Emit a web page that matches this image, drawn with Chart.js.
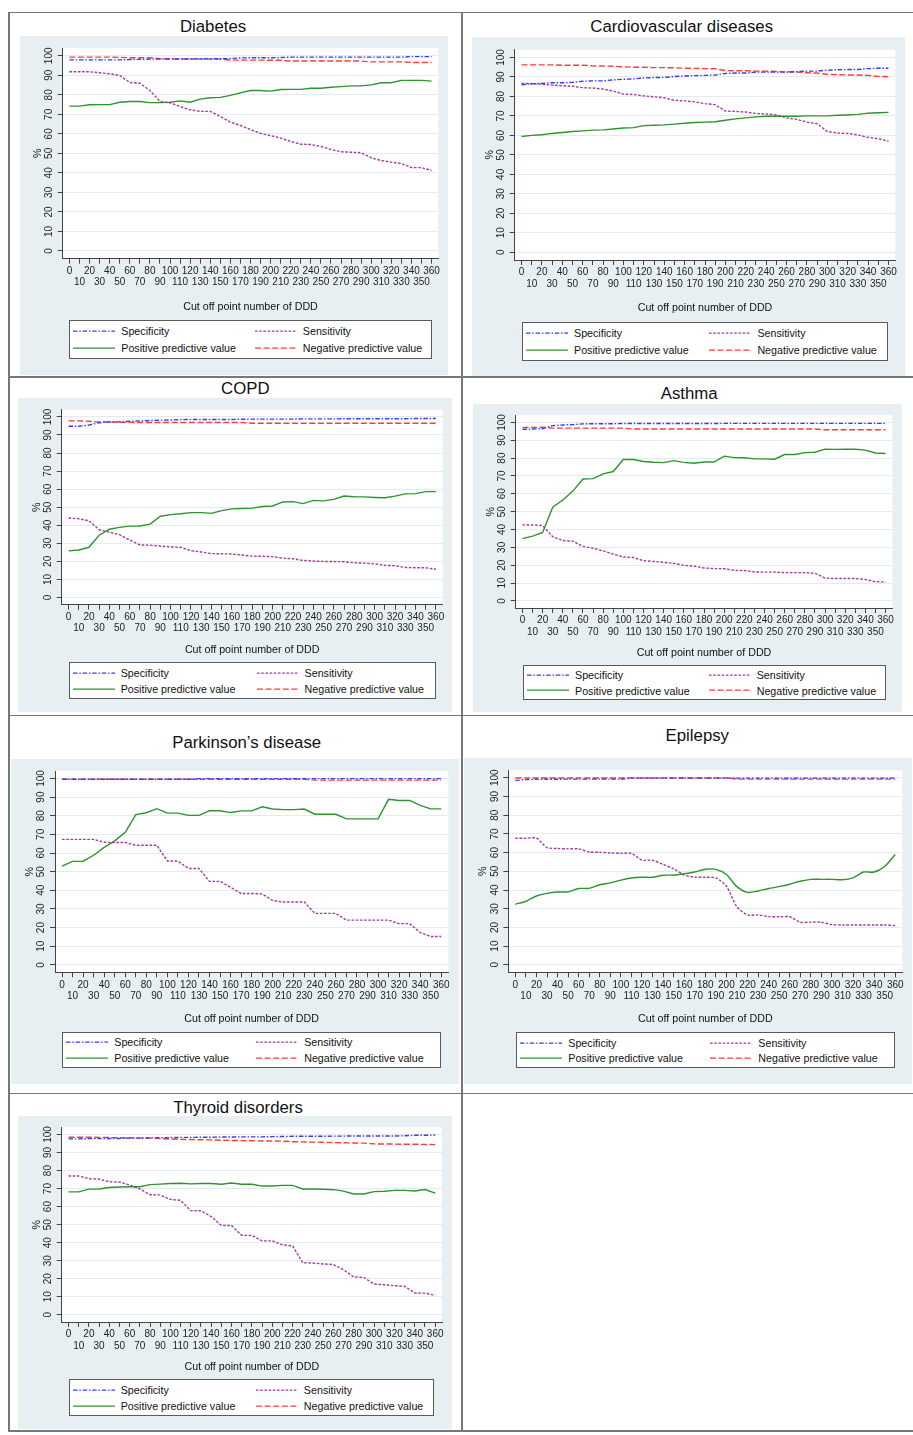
<!DOCTYPE html>
<html>
<head>
<meta charset="utf-8">
<title>Cut off point number of DDD</title>
<script src="https://cdn.jsdelivr.net/npm/chart.js@4.4.0/dist/chart.umd.min.js"></script>
<style>
    body { margin: 0; width: 913px; height: 1435px; position: relative; background: #fff; overflow: hidden;
           font-family: 'Liberation Sans', Arial, sans-serif; }
    .rule { position: absolute; background: #777; }
    .bg { position: absolute; background: #e8eff2; }
    .title { position: absolute; font-size: 16.8px; line-height: 1; color: #111; white-space: nowrap;
             transform: translate(-50%, -50%); }
    canvas { position: absolute; }
    .legend { position: absolute; background: #fff; border: 1px solid #5a5a5a; box-sizing: border-box; }
    .legend .item { position: absolute; display: flex; align-items: center; font-size: 10.7px; line-height: 1;
                    color: #111; white-space: nowrap; transform: translateY(-50%); }
    .legend svg { display: block; margin-right: 6px; }
</style>
</head>
<body>
<script>
// Cut off points (number of DDD) and y ticks
const cutoffs = [0, 10, 20, 30, 40, 50, 60, 70, 80, 90, 100, 110, 120, 130, 140, 150, 160, 170, 180,
                 190, 200, 210, 220, 230, 240, 250, 260, 270, 280, 290, 300, 310, 320, 330, 340, 350, 360];
const yTicks = [0, 10, 20, 30, 40, 50, 60, 70, 80, 90, 100];

const seriesNames = ['Specificity', 'Sensitivity', 'Positive predictive value', 'Negative predictive value'];

// Diabetes
const diabetesSpec = [97.9, 97.9, 97.9, 97.9, 97.9, 97.9, 98.1, 98.2, 98.3, 98.3, 98.4, 98.4, 98.4, 98.5, 98.5, 98.5, 98.6, 98.9, 99.0, 99.0, 99.0, 99.1, 99.3, 99.3, 99.3, 99.3, 99.3, 99.3, 99.3, 99.3, 99.3, 99.3, 99.3, 99.3, 99.6, 99.6, 99.6];
const diabetesSens = [91.8, 91.8, 91.8, 91.3, 90.8, 89.9, 86.3, 86.0, 82.2, 76.6, 75.9, 74.0, 72.3, 71.5, 71.5, 68.9, 66.0, 64.3, 62.2, 60.2, 59.1, 57.8, 56.1, 54.7, 54.5, 53.5, 52.0, 50.8, 50.6, 50.3, 47.7, 46.3, 45.5, 44.8, 42.7, 42.7, 41.2];
const diabetesPPV = [74.2, 74.2, 74.9, 75.0, 75.0, 76.2, 76.6, 76.6, 76.0, 76.0, 76.2, 76.9, 76.2, 77.8, 78.5, 78.7, 79.7, 81.0, 82.2, 82.2, 81.9, 82.7, 82.8, 82.8, 83.4, 83.4, 83.9, 84.2, 84.6, 84.6, 85.1, 86.2, 86.2, 87.4, 87.4, 87.4, 87.0];
const diabetesNPV = [99.3, 99.3, 99.3, 99.3, 99.3, 99.2, 99.0, 99.0, 99.0, 98.5, 98.4, 98.4, 98.4, 98.3, 98.3, 98.3, 97.8, 97.8, 97.8, 97.8, 97.7, 97.7, 97.3, 97.3, 97.3, 97.3, 97.3, 97.3, 97.3, 97.3, 96.9, 96.9, 96.9, 96.9, 96.6, 96.6, 96.6];

// Cardiovascular diseases
const cardioSpec = [86.0, 86.5, 86.7, 87.0, 87.0, 87.2, 87.8, 88.0, 88.0, 88.5, 88.8, 89.0, 89.5, 89.7, 89.8, 90.2, 90.5, 90.7, 90.8, 91.0, 91.8, 92.0, 92.0, 92.5, 92.5, 92.5, 92.5, 92.7, 93.0, 93.0, 93.5, 93.7, 93.8, 93.8, 94.3, 94.5, 94.5];
const cardioSens = [86.7, 86.5, 86.3, 85.8, 85.5, 85.2, 84.5, 84.3, 83.8, 82.8, 81.2, 81.0, 80.3, 79.8, 79.3, 78.0, 77.7, 77.2, 76.3, 75.8, 72.5, 72.3, 72.0, 71.2, 71.0, 70.5, 69.0, 68.2, 66.8, 66.0, 62.0, 61.2, 61.0, 60.2, 59.0, 58.3, 57.0];
const cardioPPV = [59.4, 60.0, 60.3, 61.0, 61.5, 62.0, 62.3, 62.7, 62.8, 63.3, 63.8, 64.0, 65.0, 65.2, 65.4, 65.8, 66.2, 66.6, 66.8, 67.0, 67.8, 68.5, 69.0, 69.5, 69.8, 69.8, 69.8, 69.8, 70.0, 70.0, 70.0, 70.3, 70.5, 70.8, 71.4, 71.6, 71.8];
const cardioNPV = [96.2, 96.2, 96.2, 96.2, 96.0, 96.0, 96.0, 95.7, 95.6, 95.5, 95.2, 95.0, 95.0, 94.8, 94.8, 94.7, 94.5, 94.4, 94.3, 94.2, 93.3, 93.2, 93.2, 93.0, 93.0, 92.8, 92.6, 92.5, 92.2, 92.0, 91.3, 91.2, 91.0, 91.0, 90.8, 90.3, 90.1];

// COPD
const copdSpec = [94.8, 94.8, 95.5, 96.8, 97.2, 97.3, 97.6, 97.8, 98.0, 98.2, 98.3, 98.5, 98.6, 98.6, 98.6, 98.6, 98.6, 98.7, 98.8, 98.8, 98.8, 98.8, 98.8, 98.9, 98.9, 98.9, 98.9, 99.0, 99.0, 99.0, 99.0, 99.0, 99.0, 99.0, 99.1, 99.1, 99.1];
const copdSens = [44.0, 43.6, 42.5, 37.5, 36.2, 34.8, 31.8, 29.1, 29.0, 28.5, 28.0, 27.8, 25.9, 25.2, 24.3, 24.2, 24.1, 23.5, 22.9, 22.8, 22.6, 21.8, 21.4, 20.5, 20.2, 19.9, 19.9, 19.8, 19.2, 19.0, 18.6, 17.8, 17.6, 16.6, 16.5, 16.5, 15.6];
const copdPPV = [25.8, 26.3, 27.8, 34.5, 37.8, 38.8, 39.5, 39.6, 40.6, 45.0, 45.9, 46.4, 47.0, 47.0, 46.6, 48.1, 49.1, 49.3, 49.5, 50.4, 50.7, 52.9, 53.1, 52.0, 53.8, 53.5, 54.3, 56.2, 55.8, 55.7, 55.4, 55.2, 56.1, 57.4, 57.5, 58.6, 58.6];
const copdNPV = [97.8, 97.8, 97.6, 97.2, 97.2, 97.0, 97.0, 96.9, 96.9, 96.9, 96.9, 96.9, 96.9, 96.9, 96.9, 96.9, 96.9, 96.9, 96.5, 96.5, 96.5, 96.5, 96.5, 96.5, 96.5, 96.5, 96.5, 96.5, 96.5, 96.5, 96.5, 96.5, 96.5, 96.5, 96.5, 96.5, 96.5];

// Asthma
const asthmaSpec = [96.1, 96.3, 96.5, 98.2, 98.6, 98.8, 99.2, 99.3, 99.3, 99.3, 99.4, 99.4, 99.4, 99.4, 99.4, 99.4, 99.4, 99.4, 99.4, 99.4, 99.5, 99.5, 99.5, 99.5, 99.5, 99.5, 99.5, 99.5, 99.5, 99.5, 99.5, 99.5, 99.5, 99.5, 99.5, 99.5, 99.5];
const asthmaSens = [42.6, 42.5, 42.2, 36.0, 33.8, 33.5, 30.5, 29.5, 28.0, 26.2, 24.6, 24.3, 22.5, 22.1, 21.6, 21.0, 19.9, 19.5, 18.4, 18.1, 18.0, 17.1, 17.0, 16.2, 16.1, 16.1, 15.8, 15.8, 15.8, 15.5, 12.8, 12.5, 12.5, 12.5, 12.0, 10.7, 10.6];
const asthmaPPV = [34.9, 36.3, 38.3, 52.5, 56.5, 61.5, 68.3, 68.5, 71.2, 72.5, 79.2, 79.2, 78.1, 77.7, 77.5, 78.6, 77.6, 77.1, 77.8, 77.8, 81.1, 80.3, 80.2, 79.6, 79.6, 79.4, 82.0, 82.0, 83.1, 83.3, 85.0, 84.9, 85.0, 85.0, 84.5, 82.9, 82.6];
const asthmaNPV = [97.2, 97.2, 97.3, 96.8, 96.8, 96.8, 96.8, 96.8, 96.8, 96.8, 96.8, 96.3, 96.3, 96.3, 96.3, 96.3, 96.3, 96.3, 96.3, 96.3, 96.3, 96.3, 96.3, 96.3, 96.3, 96.3, 96.3, 96.3, 96.3, 96.3, 95.9, 95.9, 95.9, 95.9, 95.9, 95.9, 95.9];

// Parkinson's disease
const parkSpec = [99.6, 99.6, 99.6, 99.6, 99.6, 99.6, 99.6, 99.6, 99.6, 99.6, 99.6, 99.6, 99.6, 99.9, 99.9, 99.9, 99.9, 99.9, 99.9, 99.9, 99.9, 99.9, 99.9, 99.9, 99.9, 99.9, 99.9, 99.9, 99.9, 99.9, 99.9, 99.9, 99.9, 99.9, 99.9, 99.9, 99.9];
const parkSens = [67.3, 67.3, 67.3, 67.3, 65.8, 65.6, 65.6, 64.2, 64.2, 64.2, 55.7, 55.7, 51.7, 51.7, 44.8, 44.8, 41.6, 38.3, 38.3, 38.0, 34.5, 33.7, 33.7, 33.7, 27.6, 27.6, 27.6, 24.0, 24.0, 24.0, 24.0, 24.0, 22.1, 22.1, 17.3, 15.2, 15.2];
const parkPPV = [53.0, 55.5, 55.6, 58.8, 63.0, 66.5, 71.1, 80.6, 81.6, 83.8, 81.4, 81.4, 80.2, 80.2, 82.7, 82.7, 81.7, 82.6, 82.6, 84.8, 83.6, 83.3, 83.3, 83.6, 80.8, 80.8, 80.8, 78.3, 78.3, 78.3, 78.3, 88.8, 88.2, 88.2, 85.6, 83.7, 83.7];
const parkNPV = [99.6, 99.6, 99.6, 99.6, 99.6, 99.6, 99.6, 99.6, 99.6, 99.6, 99.6, 99.6, 99.6, 99.6, 99.6, 99.6, 99.6, 99.6, 99.6, 99.6, 99.6, 99.6, 99.6, 99.6, 99.1, 99.1, 99.1, 99.1, 99.1, 99.1, 99.1, 99.1, 99.1, 99.1, 99.1, 99.1, 99.1];

// Epilepsy
const epiSpec = [98.6, 99.0, 99.2, 99.2, 99.2, 99.3, 99.3, 99.3, 99.3, 99.3, 99.3, 99.8, 99.8, 99.8, 99.8, 99.8, 99.8, 99.8, 99.8, 99.8, 99.8, 99.8, 99.8, 99.8, 99.8, 99.8, 99.8, 99.8, 99.8, 99.8, 99.8, 99.8, 99.8, 99.8, 99.8, 99.8, 99.8];
const epiSens = [67.7, 67.7, 67.7, 62.7, 62.2, 62.0, 62.0, 60.3, 60.2, 59.8, 59.6, 59.6, 56.0, 55.9, 53.7, 51.3, 48.0, 46.9, 46.8, 46.5, 42.0, 31.0, 26.7, 26.7, 25.8, 25.7, 25.7, 22.8, 22.8, 22.8, 21.5, 21.3, 21.3, 21.3, 21.3, 21.3, 21.0];
const epiPPV = [32.4, 34.0, 36.8, 38.2, 38.9, 39.0, 40.8, 40.9, 42.8, 43.8, 45.3, 46.4, 46.8, 46.8, 47.9, 48.0, 48.7, 49.6, 51.1, 51.0, 48.3, 41.8, 38.7, 39.5, 40.8, 41.8, 43.1, 44.7, 45.7, 45.7, 45.7, 45.5, 46.5, 49.6, 49.6, 52.6, 59.0];
const epiNPV = [99.9, 99.9, 99.9, 99.9, 99.9, 99.9, 99.9, 99.9, 99.9, 99.9, 99.9, 99.9, 99.9, 99.9, 99.9, 99.9, 99.9, 99.9, 99.9, 99.9, 99.9, 99.3, 99.3, 99.3, 99.3, 99.3, 99.3, 99.3, 99.3, 99.3, 99.3, 99.3, 99.3, 99.3, 99.3, 99.3, 99.3];

// Thyroid disorders
const thySpec = [97.6, 97.6, 97.7, 97.7, 97.8, 97.8, 98.0, 98.0, 98.1, 98.2, 98.3, 98.4, 98.4, 98.5, 98.5, 98.6, 98.6, 98.7, 98.7, 98.7, 98.8, 98.9, 99.0, 99.0, 99.0, 99.0, 99.1, 99.1, 99.2, 99.2, 99.2, 99.2, 99.2, 99.3, 99.6, 99.6, 99.7];
const thySens = [77.0, 77.0, 75.5, 75.2, 73.8, 73.6, 72.0, 69.8, 66.6, 66.5, 64.0, 63.5, 57.8, 57.7, 54.5, 49.6, 49.5, 44.1, 44.0, 41.0, 41.0, 38.8, 38.2, 28.9, 28.7, 28.2, 27.9, 25.0, 21.0, 20.7, 17.0, 16.7, 16.1, 15.8, 12.1, 12.0, 10.8];
const thyPPV = [68.2, 68.2, 69.7, 69.8, 70.6, 70.9, 71.0, 71.0, 72.2, 72.5, 72.8, 73.0, 72.6, 72.8, 72.8, 72.4, 73.1, 72.4, 72.4, 71.4, 71.4, 71.8, 71.8, 69.8, 69.8, 69.6, 69.4, 68.6, 67.0, 67.0, 68.3, 68.5, 69.0, 69.0, 68.7, 69.5, 67.5];
const thyNPV = [98.5, 98.5, 98.5, 98.4, 98.3, 98.2, 98.2, 98.1, 98.0, 97.7, 97.5, 97.3, 97.2, 97.1, 97.0, 96.8, 96.7, 96.6, 96.5, 96.4, 96.4, 96.3, 96.0, 95.9, 95.8, 95.7, 95.5, 95.4, 95.3, 95.2, 94.8, 94.7, 94.7, 94.6, 94.6, 94.5, 94.4];

// line styles (Stata-like)
const lineStyles = [
    { color: '#3a3aff', dash: [4.5, 1.8, 1.5, 1.8] },  // Specificity
    { color: '#a53aa3', dash: [2.6, 1.6] },            // Sensitivity
    { color: '#2e952e', dash: [] },                    // PPV
    { color: '#ff3a3a', dash: [6, 2.6] }               // NPV
];

const FONT = "'Liberation Sans', Arial, sans-serif";

// panel layout (page pixels): bg box, plot area, x title centre, legend box, title centre
const panels = [
    { title: 'Diabetes', data: [diabetesSpec, diabetesSens, diabetesPPV, diabetesNPV],
      bg: [20, 36, 448, 375], plot: [62.7, 48, 438.3, 258.7], xTitleY: 307,
      legend: [69.3, 320.3, 431.7, 358.7], titleAt: [213, 27] },
    { title: 'Cardiovascular diseases', data: [cardioSpec, cardioSens, cardioPPV, cardioNPV],
      bg: [472, 37, 905, 376], plot: [514.7, 49.7, 895.3, 260], xTitleY: 308.3,
      legend: [522, 322.3, 888, 360.7], titleAt: [681.7, 26.5] },
    { title: 'COPD', data: [copdSpec, copdSens, copdPPV, copdNPV],
      bg: [18, 398, 452, 712], plot: [61.7, 409.7, 442.7, 604.7], xTitleY: 650.3,
      legend: [68.7, 662.3, 435.7, 698.7], titleAt: [245.3, 389.2] },
    { title: 'Asthma', data: [asthmaSpec, asthmaSens, asthmaPPV, asthmaNPV],
      bg: [473, 404, 902, 712], plot: [515.7, 415.3, 892.3, 608], xTitleY: 652.7,
      legend: [523, 665, 885.7, 700.3], titleAt: [689.2, 394.3] },
    { title: 'Parkinson\u2019s disease', data: [parkSpec, parkSens, parkPPV, parkNPV],
      bg: [11, 759, 459, 1084], plot: [55, 771, 448.3, 972.3], xTitleY: 1019,
      legend: [62.3, 1031.7, 441, 1068.3], titleAt: [246.7, 743.3] },
    { title: 'Epilepsy', data: [epiSpec, epiSens, epiPPV, epiNPV], tension: 0.25,
      bg: [464, 758, 912, 1084], plot: [508.3, 770.3, 902.3, 972.3], xTitleY: 1019,
      legend: [516.3, 1032.3, 895.3, 1068.3], titleAt: [697.3, 736.2] },
    { title: 'Thyroid disorders', data: [thySpec, thySens, thyPPV, thyNPV],
      bg: [18, 1116, 452, 1429], plot: [61.7, 1127.3, 442, 1322], xTitleY: 1367,
      legend: [68.7, 1379.3, 434.3, 1415.7], titleAt: [238, 1107.8] }
];

function addBox(cls, l, t, w, h) {
    const d = document.createElement('div');
    d.className = cls;
    d.style.left = l + 'px'; d.style.top = t + 'px';
    d.style.width = w + 'px'; d.style.height = h + 'px';
    document.body.appendChild(d);
    return d;
}

// table rules
addBox('rule', 8.3, 11.5, 905, 1.6);
addBox('rule', 8.3, 376, 905, 1.5);
addBox('rule', 8.3, 714.5, 905, 1.5);
addBox('rule', 8.3, 1092.5, 905, 1.5);
addBox('rule', 8.3, 1430.3, 905, 1.5);
addBox('rule', 8.3, 11.5, 1.8, 1420.3);
addBox('rule', 460.8, 11.5, 1.9, 1420.3);

const plotBg = {
    id: 'plotBg',
    beforeDraw(chart) {
        const a = chart.chartArea, ctx = chart.ctx;
        ctx.save();
        ctx.fillStyle = '#ffffff';
        ctx.fillRect(a.left, a.top, a.right - a.left, a.bottom - a.top);
        ctx.restore();
    }
};

function legendSample(style) {
    const dash = style.dash.length ? ' stroke-dasharray="' + style.dash.join(' ') + '"' : '';
    return '<svg width="42" height="5"><line x1="0" y1="2.5" x2="42" y2="2.5" stroke="' + style.color +
           '" stroke-width="1.4"' + dash + '/></svg>';
}

function buildPanel(p) {
    const [bx, by, bx2, by2] = p.bg;
    const bw = bx2 - bx, bh = by2 - by;
    addBox('bg', bx, by, bw, bh);

    const t = document.createElement('div');
    t.className = 'title';
    t.textContent = p.title;
    t.style.left = p.titleAt[0] + 'px';
    t.style.top = p.titleAt[1] + 'px';
    document.body.appendChild(t);

    const [pl, pt, pr, pb] = p.plot;
    const titleLH = 10.7 * 1.2;
    const yAxisW = 31.4;
    const xAxisH = p.xTitleY + titleLH / 2 - pb;
    const pad = {
        left: pl - bx - yAxisW,
        top: pt - by,
        right: bx2 - pr,
        bottom: by2 - (p.xTitleY + titleLH / 2)
    };

    const canvas = document.createElement('canvas');
    canvas.width = bw; canvas.height = bh;
    canvas.style.left = bx + 'px'; canvas.style.top = by + 'px';
    canvas.style.width = bw + 'px'; canvas.style.height = bh + 'px';
    document.body.appendChild(canvas);

    const datasets = p.data.map(function(arr, k) {
        return {
            label: seriesNames[k],
            data: cutoffs.map(function(x, j) { return { x: x, y: arr[j] }; }),
            borderColor: lineStyles[k].color,
            borderDash: lineStyles[k].dash,
            borderWidth: 1.4,
            pointRadius: 0,
            fill: false,
            tension: p.tension || 0
        };
    });

    new Chart(canvas, {
        type: 'line',
        data: { datasets: datasets },
        options: {
            responsive: false,
            animation: false,
            events: [],
            layout: { padding: pad },
            plugins: { legend: { display: false }, tooltip: { enabled: false } },
            scales: {
                x: {
                    type: 'linear', min: -6.7, max: 366.7,
                    afterBuildTicks: function(s) { s.ticks = cutoffs.map(function(v) { return { value: v }; }); },
                    afterFit: function(s) { s.height = xAxisH; },
                    ticks: {
                        autoSkip: false, maxRotation: 0, minRotation: 0, padding: 2, color: '#222',
                        font: { family: FONT, size: 10, lineHeight: 1.13 },
                        callback: function(v, k) { return k % 2 === 0 ? [String(v), ''] : ['', String(v)]; }
                    },
                    grid: { drawOnChartArea: false, drawTicks: true, tickLength: 5, tickColor: '#444', tickWidth: 1 },
                    border: { display: true, color: '#444', width: 1 },
                    title: { display: true, text: 'Cut off point number of DDD', color: '#111', padding: 0,
                             font: { family: FONT, size: 10.7, lineHeight: 1.2 } }
                },
                y: {
                    type: 'linear', min: -4, max: 104,
                    afterBuildTicks: function(s) { s.ticks = yTicks.map(function(v) { return { value: v }; }); },
                    afterFit: function(s) { s.width = yAxisW; },
                    ticks: { autoSkip: false, minRotation: 90, maxRotation: 90, crossAlign: 'center', padding: 0,
                             color: '#222', font: { family: FONT, size: 10 } },
                    grid: { color: '#e3ebee', lineWidth: 1, tickLength: 5, tickColor: '#444', tickWidth: 1 },
                    border: { display: true, color: '#444', width: 1 },
                    title: { display: true, text: '%', color: '#111', padding: 0,
                             font: { family: FONT, size: 10.7, lineHeight: 1.2 } }
                }
            }
        },
        plugins: [plotBg]
    });

    // legend box (2 x 2)
    const [lx, ly, lx2, ly2] = p.legend;
    const lw = lx2 - lx, lh = ly2 - ly;
    const box = addBox('legend', lx, ly, lw, lh);
    const order = [0, 1, 2, 3];
    order.forEach(function(k) {
        const col = k % 2, row = Math.floor(k / 2);
        const item = document.createElement('div');
        item.className = 'item';
        item.style.left = (col === 0 ? 3 : lw * 0.512 - 1) + 'px';
        item.style.top = (row === 0 ? lh * 0.29 : lh * 0.725) - 1 + 'px';
        item.innerHTML = legendSample(lineStyles[k]) + '<span>' + seriesNames[k] + '</span>';
        box.appendChild(item);
    });
}

panels.forEach(buildPanel);
</script>
</body>
</html>
